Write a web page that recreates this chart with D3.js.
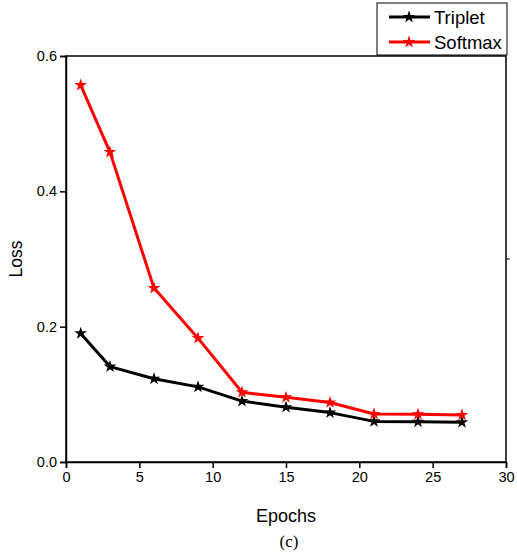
<!DOCTYPE html>
<html><head><meta charset="utf-8">
<script src="https://cdn.jsdelivr.net/npm/d3@7"></script>
<style>body{margin:0;background:#fff}svg{display:block}text{font-family:"Liberation Sans",Arial,sans-serif}</style>
</head><body>
<svg id="c" width="517" height="554"></svg>
<script>
const epochs = [1, 3, 6, 9, 12, 15, 18, 21, 24, 27];
const triplet = [0.190, 0.141, 0.123, 0.111, 0.090, 0.081, 0.073, 0.060, 0.0595, 0.0587];
const softmax = [0.557, 0.458, 0.257, 0.183, 0.103, 0.0956, 0.088, 0.071, 0.0705, 0.0695];
const xTicks = [0, 5, 10, 15, 20, 25, 30];
const yTicks = [0.0, 0.2, 0.4, 0.6];
const seriesNames = ["Triplet", "Softmax"];
const seriesColors = ["#000000", "#ff0000"];

const svg = d3.select("#c");
const L = 66, R = 506, T = 56, B = 462;
const x = d3.scaleLinear().domain([0, 30]).range([L, R]);
const y = d3.scaleLinear().domain([0, 0.6]).range([B, T]);

// frame
svg.append("rect").attr("x", L).attr("y", T).attr("width", R - L).attr("height", B - T)
  .attr("fill", "none").attr("stroke", "#000").attr("stroke-width", 1.5);

const xa = svg.append("g").attr("transform", `translate(0,${B})`)
  .call(d3.axisBottom(x).tickValues(xTicks).tickSize(6).tickPadding(4).tickFormat(d3.format("d")));
const ya = svg.append("g").attr("transform", `translate(${L},0)`)
  .call(d3.axisLeft(y).tickValues(yTicks).tickSize(6).tickPadding(3).tickFormat(d3.format(".1f")));
[xa, ya].forEach(a => {
  a.select(".domain").attr("stroke-width", 1.5);
  a.selectAll(".tick line").attr("stroke-width", 1.5);
  a.selectAll("text").attr("font-size", 14.5).attr("fill", "#000")
    .style("font-family", '"Liberation Sans",Arial,sans-serif');
});

// stray right-side tick
svg.append("line").attr("x1", R).attr("x2", R + 4).attr("y1", y(0.3)).attr("y2", y(0.3))
  .attr("stroke", "#000").attr("stroke-width", 1);

const star = d3.symbol().type(d3.symbolStar).size(50);
const line = d3.line().x((d, i) => x(epochs[i])).y(d => y(d));
[triplet, softmax].forEach((s, k) => {
  svg.append("path").datum(s).attr("d", line).attr("fill", "none")
    .attr("stroke", seriesColors[k]).attr("stroke-width", 3).attr("stroke-linejoin", "round");
  svg.append("g").selectAll("path").data(s).join("path")
    .attr("transform", (d, i) => `translate(${x(epochs[i])},${y(d)})`)
    .attr("d", star).attr("fill", seriesColors[k]);
});

// axis titles
svg.append("text").attr("x", x(15)).attr("y", 522).attr("text-anchor", "middle")
  .attr("font-size", 18).text("Epochs");
svg.append("text").attr("transform", `translate(22,${(T + B) / 2}) rotate(-90)`)
  .attr("text-anchor", "middle").attr("font-size", 17.5).text("Loss");
svg.append("text").attr("x", 289).attr("y", 547).attr("text-anchor", "middle")
  .attr("font-size", 17).style("font-family", '"Liberation Serif","Times New Roman",serif').text("(c)");

// legend
const lg = svg.append("g");
lg.append("rect").attr("x", 377).attr("y", 3).attr("width", 130).attr("height", 52)
  .attr("fill", "#fff").attr("stroke", "#000").attr("stroke-width", 1);
seriesNames.forEach((n, k) => {
  const yy = 17 + k * 25;
  lg.append("line").attr("x1", 389).attr("x2", 430).attr("y1", yy).attr("y2", yy)
    .attr("stroke", seriesColors[k]).attr("stroke-width", 3);
  lg.append("path").attr("transform", `translate(409,${yy})`).attr("d", star).attr("fill", seriesColors[k]);
  lg.append("text").attr("x", 434).attr("y", yy + 6.5).attr("font-size", 18.5).text(n);
});
</script>
</body></html>
